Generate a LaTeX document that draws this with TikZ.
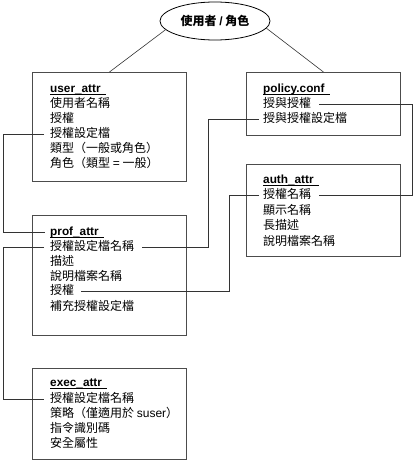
\documentclass[tikz,border=0pt]{standalone}
\usepackage{fontspec}
\setmainfont{Noto Sans CJK TC}
\newfontfamily\lat{Liberation Sans}
\usetikzlibrary{shapes.geometric}
\tikzset{
  tbox/.style={draw=black!70, line width=0.9pt, rectangle, inner sep=0pt, anchor=north west},
  tl/.style={anchor=west, inner sep=0pt, text height=9pt, text depth=2.7pt, font=\fontsize{12pt}{13pt}\selectfont},
  th/.style={tl, font=\fontsize{11.8pt}{13pt}\selectfont\lat\bfseries},
  conn/.style={draw=black!80, line width=0.6pt},
  uline/.style={draw=black, line width=1pt}
}
\newcommand{\ul}[1]{\draw[uline] ([yshift=-2.2pt]#1.base west) -- ([xshift=5pt,yshift=-2.2pt]#1.base east);}
\begin{document}
\begin{tikzpicture}[x=1pt,y=-1pt]
\useasboundingbox (0,0) rectangle (413,460);
% title ellipse
\node[ellipse, draw=black, line width=0.8pt, minimum width=110pt, minimum height=38pt, inner sep=0pt,
      font=\fontsize{12pt}{13pt}\selectfont\bfseries] (role) at (215,21) {使用者 {\lat /} 角色};
% boxes
\node[tbox, minimum width=154pt, minimum height=109pt] (ub) at (32,72) {};
\node[tbox, minimum width=154pt, minimum height=63pt] (pb) at (246,72) {};
\node[tbox, minimum width=154pt, minimum height=92pt] (ab) at (246,164) {};
\node[tbox, minimum width=154pt, minimum height=120pt] (fb) at (32,215) {};
\node[tbox, minimum width=154pt, minimum height=91pt] (eb) at (32,368) {};
% user_attr
\node[th] (ua0) at (50,89) {user\_attr};
\node[tl] (ua1) at (50,104) {使用者名稱};
\node[tl] (ua2) at (50,119) {授權};
\node[tl] (ua3) at (50,134) {授權設定檔};
\node[tl] (ua4) at (50,149.5) {類型（一般或角色）};
\node[tl] (ua5) at (50,164.5) {角色（類型 {\lat =} 一般）};
% policy.conf
\node[th] (pc0) at (263,89) {policy.conf};
\node[tl] (pc1) at (263,104) {授與授權};
\node[tl] (pc2) at (263,119) {授與授權設定檔};
% auth_attr
\node[th] (aa0) at (263,180) {auth\_attr};
\node[tl] (aa1) at (263,195.5) {授權名稱};
\node[tl] (aa2) at (263,211) {顯示名稱};
\node[tl] (aa3) at (263,226.5) {長描述};
\node[tl] (aa4) at (263,242) {說明檔案名稱};
% prof_attr
\node[th] (pa0) at (50,232) {prof\_attr};
\node[tl] (pa1) at (50,247) {授權設定檔名稱};
\node[tl] (pa2) at (50,262) {描述};
\node[tl] (pa3) at (50,277) {說明檔案名稱};
\node[tl] (pa4) at (50,291.5) {授權};
\node[tl] (pa5) at (50,307) {補充授權設定檔};
% exec_attr
\node[th] (ea0) at (50,383.5) {exec\_attr};
\node[tl] (ea1) at (50,399) {授權設定檔名稱};
\node[tl] (ea2) at (50,414) {策略（僅適用於 {\lat suser}）};
\node[tl] (ea3) at (50,429) {指令識別碼};
\node[tl] (ea4) at (50,444.5) {安全屬性};
% underlines
\ul{ua0}\ul{pc0}\ul{aa0}\ul{pa0}\ul{ea0}
% ellipse connectors
\draw[conn] (role.190) -- (ub.north);
\draw[conn] (role.352) -- (pb.north);
% routing coordinates
\coordinate (xl) at (3,0);
\coordinate (xm) at (208,0);
\coordinate (xn) at (229,0);
\coordinate (xr) at (412,0);
% connectors
\draw[conn] ([xshift=-6pt]ua3.west) -| (xl |- pa0.west) -- ([xshift=-5pt]pa0.west);
\draw[conn] ([xshift=-6pt]pa1.west) -| (xl |- ea1.west) -- ([xshift=-6pt]ea1.west);
\draw[conn] ([xshift=-4pt]pc2.west) -| (xm |- pa1.east) -- ([xshift=8pt]pa1.east);
\draw[conn] ([xshift=8pt]pc1.east) -| (xr |- aa1.east) -- ([xshift=8pt]aa1.east);
\draw[conn] ([xshift=-4pt]aa1.west) -| (xn |- pa4.east) -- ([xshift=7pt]pa4.east);
\end{tikzpicture}
\end{document}
